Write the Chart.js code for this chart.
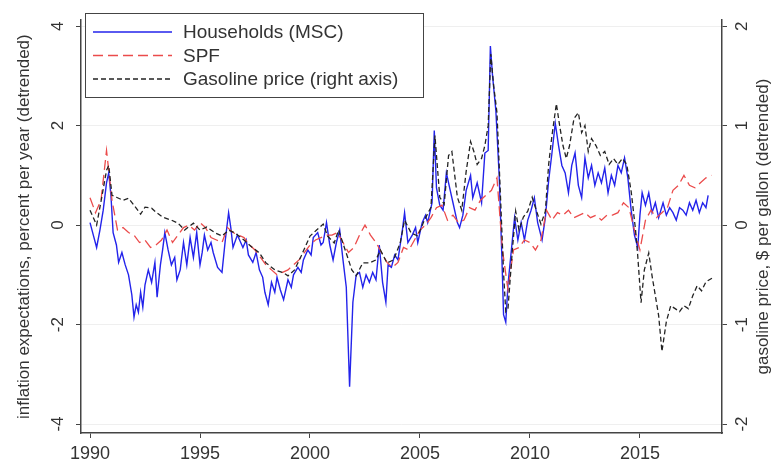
<!DOCTYPE html>
<html>
<head>
<meta charset="utf-8">
<script src="https://cdn.jsdelivr.net/npm/chart.js@4.4.1/dist/chart.umd.min.js"></script>
<style>
  html, body { margin: 0; padding: 0; background: #fff; }
  #wrap { width: 780px; height: 462px; }
</style>
</head>
<body>
<div id="wrap"><canvas id="chart" width="780" height="462"></canvas></div>
<script>
// household (MSC) inflation expectations, detrended, pct per year
const hhDates = [1990.0,1990.15,1990.3,1990.45,1990.6,1990.75,1990.85,1990.95,1991.05,1991.2,1991.3,1991.45,1991.6,1991.75,1991.9,
  1992.0,1992.1,1992.2,1992.3,1992.4,1992.5,1992.65,1992.8,1992.95,1993.05,1993.2,1993.3,1993.4,1993.55,1993.7,1993.85,1993.95,
  1994.1,1994.25,1994.4,1994.55,1994.7,1994.85,1995.0,1995.1,1995.2,1995.35,1995.5,1995.6,1995.8,1996.0,1996.15,1996.3,1996.4,
  1996.5,1996.7,1996.85,1996.95,1997.1,1997.2,1997.4,1997.55,1997.7,1997.85,1997.95,1998.1,1998.25,1998.4,1998.5,1998.65,1998.8,
  1999.0,1999.15,1999.25,1999.45,1999.6,1999.7,1999.9,2000.05,2000.15,2000.35,2000.5,2000.6,2000.75,2000.9,2001.05,2001.2,2001.35,
  2001.5,2001.65,2001.8,2001.95,2002.1,2002.25,2002.4,2002.55,2002.7,2002.85,2003.0,2003.15,2003.3,2003.45,2003.55,2003.7,2003.85,
  2004.0,2004.2,2004.3,2004.45,2004.65,2004.8,2004.9,2005.1,2005.25,2005.35,2005.55,2005.65,2005.75,2005.9,2006.05,2006.2,2006.35,
  2006.5,2006.7,2006.8,2006.95,2007.1,2007.3,2007.4,2007.6,2007.8,2007.95,2008.1,2008.2,2008.3,2008.45,2008.6,2008.72,2008.8,
  2008.9,2009.0,2009.2,2009.3,2009.45,2009.6,2009.75,2009.9,2010.05,2010.2,2010.35,2010.55,2010.7,2010.85,2011.0,2011.15,2011.3,
  2011.45,2011.6,2011.75,2011.9,2012.05,2012.2,2012.35,2012.5,2012.65,2012.8,2012.95,2013.1,2013.25,2013.4,2013.55,2013.7,2013.85,
  2014.0,2014.15,2014.3,2014.45,2014.6,2014.75,2014.9,2015.0,2015.1,2015.25,2015.4,2015.55,2015.7,2015.85,2016.05,2016.2,2016.35,
  2016.5,2016.65,2016.8,2016.95,2017.1,2017.25,2017.4,2017.55,2017.7,2017.85,2018.0,2018.1];
const hhValues = [0.05,-0.2,-0.45,-0.1,0.3,0.85,1.05,0.6,-0.15,-0.4,-0.75,-0.55,-0.8,-1.0,-1.4,
  -1.85,-1.6,-1.75,-1.35,-1.65,-1.2,-0.9,-1.15,-0.75,-1.45,-0.8,-0.5,-0.15,-0.5,-0.8,-0.65,-1.1,
  -0.9,-0.35,-0.8,-0.25,-0.65,-0.15,-0.8,-0.55,-0.2,-0.5,-0.35,-0.55,-0.85,-0.95,-0.3,0.25,-0.05,
  -0.45,-0.2,-0.35,-0.45,-0.3,-0.6,-0.75,-0.55,-0.9,-1.05,-1.35,-1.6,-1.15,-1.35,-1.05,-1.3,-1.5,
  -1.1,-1.25,-1.0,-0.85,-0.95,-0.7,-0.5,-0.6,-0.25,-0.15,-0.4,-0.35,0.05,-0.4,-0.7,-0.35,-0.1,
  -0.7,-1.25,-3.25,-1.55,-1.0,-0.95,-1.25,-1.0,-1.15,-0.95,-1.1,-0.4,-1.15,-1.55,-0.8,-0.85,-0.6,
  -0.7,-0.1,0.25,-0.35,-0.2,-0.05,-0.35,0.05,0.2,0.05,0.45,1.9,0.75,0.4,0.3,1.05,0.75,
  0.45,0.05,-0.05,0.2,0.7,1.0,0.55,0.85,0.45,1.45,1.5,3.6,3.0,2.3,1.0,-0.6,-1.8,
  -1.95,-1.2,-0.3,0.15,-0.3,0.05,-0.3,0.1,0.3,0.55,0.05,-0.3,0.15,0.9,1.45,2.05,1.6,
  1.2,1.05,0.65,1.2,1.45,0.8,0.55,1.35,0.95,1.2,0.8,1.05,0.85,1.15,0.65,1.0,0.8,
  1.2,1.05,1.35,0.95,0.3,-0.2,-0.45,0.2,0.65,0.4,0.65,0.25,0.45,0.15,0.45,0.2,0.35,
  0.25,0.1,0.35,0.3,0.2,0.45,0.3,0.5,0.25,0.45,0.35,0.6];

// SPF, quarterly
const spfDates = [1990.0,1990.25,1990.5,1990.75,1991.0,1991.25,1991.5,1991.75,1992.0,1992.25,1992.5,1992.75,
  1993.0,1993.25,1993.5,1993.75,1994.0,1994.25,1994.5,1994.75,1995.0,1995.25,1995.5,1995.75,
  1996.0,1996.25,1996.5,1996.75,1997.0,1997.25,1997.5,1997.75,1998.0,1998.25,1998.5,1998.75,
  1999.0,1999.25,1999.5,1999.75,2000.0,2000.25,2000.5,2000.75,2001.0,2001.25,2001.5,2001.75,
  2002.0,2002.25,2002.5,2002.75,2003.0,2003.25,2003.5,2003.75,2004.0,2004.25,2004.5,2004.75,
  2005.0,2005.25,2005.5,2005.75,2006.0,2006.25,2006.5,2006.75,2007.0,2007.25,2007.5,2007.75,
  2008.0,2008.25,2008.5,2008.75,2009.0,2009.25,2009.5,2009.75,2010.0,2010.25,2010.5,2010.75,
  2011.0,2011.25,2011.5,2011.75,2012.0,2012.25,2012.5,2012.75,2013.0,2013.25,2013.5,2013.75,
  2014.0,2014.25,2014.5,2014.75,2015.0,2015.25,2015.5,2015.75,2016.0,2016.25,2016.5,2016.75,
  2017.0,2017.25,2017.5,2017.75,2018.0,2018.25];
const spfValues = [0.55,0.25,0.5,1.5,0.5,-0.1,-0.05,-0.15,-0.2,-0.35,-0.3,-0.45,
  -0.4,-0.3,-0.1,-0.35,-0.2,-0.05,0.0,-0.1,0.05,-0.05,-0.25,-0.3,
  -0.35,-0.05,-0.15,-0.2,-0.25,-0.4,-0.5,-0.65,-0.8,-0.9,-1.0,-0.95,
  -0.9,-0.8,-0.7,-0.55,-0.4,-0.3,-0.25,-0.2,-0.2,-0.15,-0.35,-0.55,
  -0.45,-0.2,0.0,-0.2,-0.35,-0.55,-0.75,-0.85,-0.75,-0.45,-0.5,-0.3,
  -0.1,0.0,0.15,0.35,0.4,0.1,0.2,0.05,0.1,0.35,0.3,0.5,
  0.6,0.7,0.95,-0.5,-1.3,-0.5,-0.45,-0.3,-0.35,-0.5,-0.3,0.3,
  0.1,0.25,0.2,0.3,0.15,0.2,0.25,0.15,0.2,0.1,0.2,0.2,
  0.25,0.45,0.35,-0.1,-0.5,0.1,0.3,0.15,0.25,0.35,0.7,0.8,
  1.0,0.8,0.75,0.85,0.95,1.0];

// gasoline price, detrended, $ per gallon (right axis)
const gasDates = [1990.0,1990.3,1990.55,1990.75,1990.85,1991.0,1991.2,1991.5,1991.75,1992.0,1992.3,1992.5,1992.8,
  1993.0,1993.3,1993.7,1994.0,1994.3,1994.7,1995.0,1995.3,1995.7,1996.0,1996.3,1996.6,1997.0,1997.3,1997.7,
  1998.0,1998.4,1998.8,1999.0,1999.3,1999.6,2000.0,2000.3,2000.6,2000.8,2001.1,2001.3,2001.6,2001.9,
  2002.1,2002.4,2002.7,2003.0,2003.2,2003.5,2003.8,2004.1,2004.3,2004.6,2004.9,2005.2,2005.5,2005.68,
  2005.9,2006.1,2006.3,2006.45,2006.7,2006.9,2007.1,2007.3,2007.45,2007.6,2007.8,2007.95,2008.1,2008.22,
  2008.35,2008.5,2008.65,2008.8,2008.9,2009.0,2009.2,2009.35,2009.5,2009.7,2009.9,2010.1,2010.3,2010.5,
  2010.7,2010.85,2011.0,2011.2,2011.35,2011.5,2011.65,2011.8,2012.0,2012.2,2012.35,2012.5,2012.65,2012.8,
  2013.0,2013.2,2013.4,2013.6,2013.8,2014.0,2014.2,2014.4,2014.6,2014.8,2014.9,2015.05,2015.2,2015.4,
  2015.55,2015.7,2015.85,2016.0,2016.2,2016.4,2016.6,2016.8,2017.0,2017.2,2017.4,2017.6,2017.8,2018.0,2018.3];
const gasValues = [0.15,0.0,0.3,0.55,0.6,0.3,0.28,0.25,0.27,0.2,0.11,0.18,0.17,
  0.13,0.08,0.05,0.02,-0.05,0.02,-0.05,-0.02,-0.08,-0.11,-0.05,-0.08,-0.15,-0.21,-0.28,
  -0.38,-0.45,-0.48,-0.51,-0.45,-0.31,-0.11,-0.05,0.01,-0.11,-0.18,-0.05,-0.25,-0.45,
  -0.51,-0.38,-0.38,-0.35,-0.25,-0.38,-0.35,-0.18,0.05,-0.08,-0.11,0.05,0.18,0.9,
  0.28,0.21,0.7,0.74,0.28,0.15,0.54,0.84,0.74,0.61,0.67,0.8,1.0,1.72,
  1.4,1.13,0.34,-0.48,-0.87,-0.84,-0.25,0.14,-0.05,0.08,0.14,0.28,0.14,0.01,
  0.14,0.61,0.9,1.22,1.0,0.8,0.67,0.8,1.07,1.13,0.93,1.0,0.74,0.87,
  0.8,0.7,0.74,0.61,0.67,0.61,0.67,0.61,0.34,-0.05,-0.31,-0.78,-0.45,-0.28,
  -0.51,-0.71,-0.91,-1.27,-0.97,-0.81,-0.84,-0.87,-0.81,-0.84,-0.71,-0.61,-0.66,-0.57,-0.53];

const xTickYears = [1990, 1995, 2000, 2005, 2010, 2015];
const leftTicks = [-4, -2, 0, 2, 4];
const rightTicks = [-2, -1, 0, 1, 2];

const FONT = '"Liberation Sans", Arial, sans-serif';
const toPoints = (xs, ys) => xs.map((x, i) => ({ x: x, y: ys[i] }));

// legend box drawn inside the plot, top-left (Stata style)
const boxLegend = {
  id: 'boxLegend',
  afterDraw(chart) {
    const ctx = chart.ctx;
    const rows = [32, 55.5, 79];
    ctx.save();
    ctx.fillStyle = '#fff';
    ctx.fillRect(85, 13, 338, 84);
    ctx.strokeStyle = '#444';
    ctx.lineWidth = 1;
    ctx.strokeRect(85.5, 13.5, 338, 84);
    chart.data.datasets.forEach((ds, i) => {
      const y = rows[i];
      ctx.beginPath();
      ctx.setLineDash(ds.borderDash || []);
      ctx.strokeStyle = ds.borderColor;
      ctx.lineWidth = ds.borderWidth;
      ctx.moveTo(93, y);
      ctx.lineTo(172, y);
      ctx.stroke();
      ctx.setLineDash([]);
      ctx.fillStyle = '#333';
      ctx.font = '19px ' + FONT;
      ctx.textBaseline = 'middle';
      ctx.textAlign = 'left';
      ctx.fillText(ds.label, 183, y + 1);
    });
    ctx.restore();
  }
};

// right axis title reads bottom-to-top like the left one
const rightTitle = {
  id: 'rightTitle',
  afterDraw(chart) {
    const ctx = chart.ctx;
    const a = chart.chartArea;
    ctx.save();
    ctx.translate(763, (a.top + a.bottom) / 2);
    ctx.rotate(-Math.PI / 2);
    ctx.fillStyle = '#333';
    ctx.font = '17px ' + FONT;
    ctx.textAlign = 'center';
    ctx.textBaseline = 'middle';
    ctx.fillText('gasoline price, $ per gallon (detrended)', 0, 0);
    ctx.restore();
  }
};

new Chart(document.getElementById('chart'), {
  type: 'line',
  data: {
    datasets: [
      {
        label: 'Households (MSC)',
        data: toPoints(hhDates, hhValues),
        yAxisID: 'y',
        borderColor: 'rgb(35,35,235)',
        borderWidth: 1.4,
        order: 3
      },
      {
        label: 'SPF',
        data: toPoints(spfDates, spfValues),
        yAxisID: 'y',
        borderColor: 'rgb(235,75,75)',
        borderWidth: 1.3,
        borderDash: [10, 5],
        order: 2
      },
      {
        label: 'Gasoline price (right axis)',
        data: toPoints(gasDates, gasValues),
        yAxisID: 'y2',
        borderColor: 'rgb(35,35,35)',
        borderWidth: 1.3,
        borderDash: [5, 3],
        order: 1
      }
    ]
  },
  options: {
    responsive: false,
    animation: false,
    layout: { padding: { top: 13, left: 0, right: 0, bottom: 0 } },
    elements: { point: { radius: 0 }, line: { tension: 0 } },
    plugins: { legend: { display: false }, tooltip: { enabled: false } },
    scales: {
      x: {
        type: 'linear',
        position: 'bottom',
        min: 1989.59,
        max: 2018.73,
        afterBuildTicks: (s) => { s.ticks = xTickYears.map(v => ({ value: v })); },
        afterFit: (s) => { s.height = 29; },
        ticks: { callback: (v) => String(v), color: '#333', font: { family: FONT, size: 18 }, padding: 5, maxRotation: 0 },
        grid: { drawOnChartArea: false, tickLength: 5, tickColor: '#444' },
        border: { color: '#444', width: 1.5 }
      },
      y: {
        position: 'left',
        min: -4.18,
        max: 4.12,
        afterBuildTicks: (s) => { s.ticks = leftTicks.map(v => ({ value: v })); },
        afterFit: (s) => { s.width = 81; },
        ticks: { callback: (v) => String(v), color: '#333', font: { family: FONT, size: 17 },
          minRotation: 90, maxRotation: 90, crossAlign: 'center', padding: 10 },
        grid: { color: '#efefef', tickLength: 5, tickColor: '#444' },
        border: { color: '#444', width: 1.5 },
        title: { display: true, text: 'inflation expectations, percent per year (detrended)',
          color: '#333', font: { family: FONT, size: 17 }, padding: { top: 14, bottom: 0 } }
      },
      y2: {
        position: 'right',
        min: -2.09,
        max: 2.06,
        afterBuildTicks: (s) => { s.ticks = rightTicks.map(v => ({ value: v })); },
        afterFit: (s) => { s.width = 58; },
        ticks: { callback: (v) => String(v), color: '#333', font: { family: FONT, size: 17 },
          minRotation: 90, maxRotation: 90, crossAlign: 'center', padding: 8 },
        grid: { drawOnChartArea: false, tickLength: 5, tickColor: '#444' },
        border: { color: '#444', width: 1.5 }
      }
    }
  },
  plugins: [boxLegend, rightTitle]
});
</script>
</body>
</html>
